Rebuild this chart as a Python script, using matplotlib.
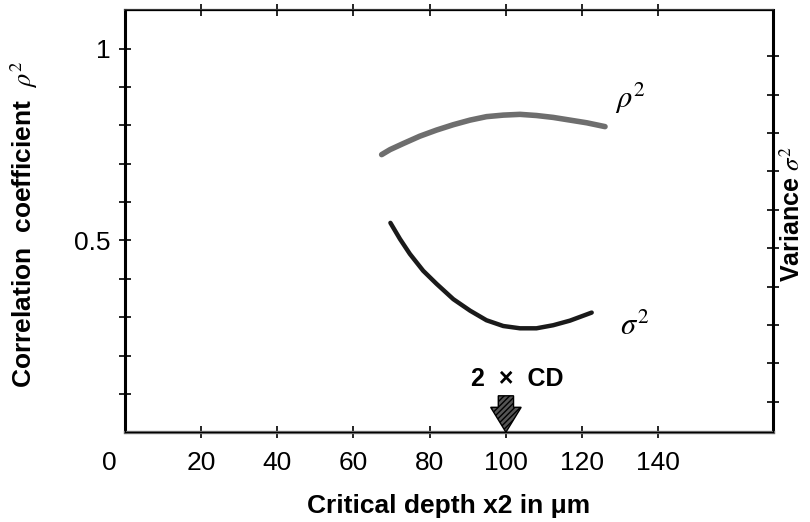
import numpy as np
import matplotlib
matplotlib.use('Agg')
from matplotlib import pyplot as plt
from matplotlib import font_manager

plt.rcParams['font.family'] = ['Liberation Sans', 'DejaVu Sans']
plt.rcParams['mathtext.fontset'] = 'stix'

names = {f.name for f in font_manager.fontManager.ttflist}
narrow = 'Liberation Sans Narrow' if 'Liberation Sans Narrow' in names else 'Liberation Sans'

# curves (x in um, y in left-axis units)
rho_x = [67.4, 69.6, 73.1, 77.4, 81.8, 86.2, 90.6, 94.9, 99.3, 103.7, 108.0, 112.4, 116.8, 121.2, 126.0]
rho_y = [0.724, 0.737, 0.753, 0.772, 0.788, 0.802, 0.814, 0.823, 0.827, 0.829, 0.826, 0.821, 0.814, 0.807, 0.797]
sig_x = [69.7, 72.2, 74.8, 78.3, 81.8, 86.2, 90.6, 94.9, 99.3, 103.7, 108.0, 112.4, 116.8, 122.5]
sig_y = [0.546, 0.504, 0.465, 0.421, 0.387, 0.347, 0.317, 0.292, 0.277, 0.271, 0.271, 0.279, 0.291, 0.312]

x_ticks = [20, 40, 60, 80, 100, 120, 140]
y_ticks = [0.1, 0.2, 0.3, 0.4, 0.5, 0.6, 0.7, 0.8, 0.9, 1.0]
y_labels = ['', '', '', '', '0.5', '', '', '', '', '1']
right_ticks = [0.08, 0.18, 0.28, 0.38, 0.48, 0.58, 0.68, 0.78, 0.88, 0.98]
cd_x = 100

fig = plt.figure(figsize=(8.1, 5.22), dpi=100)
ax = fig.add_axes([0.154, 0.172, 0.800, 0.808])

ax.plot(rho_x, rho_y, color='#6e6e6e', lw=4, solid_capstyle='round', solid_joinstyle='round')
ax.plot(sig_x, sig_y, color='#1a1a1a', lw=3.2, solid_capstyle='round', solid_joinstyle='round')

ax.set_xlim(0, 170)
ax.set_ylim(0, 1.1)

ax.set_xticks(x_ticks)
ax.set_xticklabels([str(v) for v in x_ticks], fontsize=19, family=narrow)
ax.set_yticks(y_ticks)
ax.set_yticklabels(y_labels, fontsize=19, family=narrow)
ax.tick_params(axis='both', direction='inout', length=9, width=1.2, color='black')
ax.tick_params(axis='x', top=True, pad=9)
ax.tick_params(axis='y', pad=6)
ax.text(-4, -0.08, '0', fontsize=19, family=narrow, ha='center', va='center')

ax.spines['left'].set_linewidth(2.2)
ax.spines['left'].set_color('black')
ax.spines['bottom'].set_linewidth(2.4)
ax.spines['bottom'].set_color('#6a6a6a')
ax.spines['top'].set_linewidth(1.6)
ax.spines['top'].set_color('#3a3a3a')
ax.spines['right'].set_linewidth(2.2)

ax2 = ax.twinx()
ax2.set_ylim(0, 1.1)
ax2.set_yticks(right_ticks)
ax2.set_yticklabels([])
ax2.tick_params(axis='y', direction='inout', length=9, width=1.2)

# curve labels
ax.text(128.5, 0.87, r'$\rho^2$', fontsize=22, ha='left', va='center')
ax.text(130, 0.275, r'$\sigma^2$', fontsize=22, ha='left', va='center')

# 2 x CD marker
ax.text(103, 0.14, '2  \u00d7  CD', fontsize=18, fontweight='bold', ha='center', va='center')
ax.arrow(cd_x, 0.095, 0, -0.03, width=4.0, head_width=8.0, head_length=0.065,
         length_includes_head=False, facecolor='#555555', edgecolor='black',
         hatch='//////', lw=1.0, zorder=5)

ax.set_xlabel('Critical depth x2 in \u03bcm', fontsize=19, fontweight='bold', labelpad=14)
fig.text(0.03, 0.57, 'Correlation  coefficient  $\\rho^2$', rotation=90, fontsize=19,
         fontweight='bold', ha='center', va='center')
fig.text(0.978, 0.59, 'Variance $\\sigma^2$', rotation=90, fontsize=18,
         fontweight='bold', ha='center', va='center')

fig.savefig('out.png', dpi=100)
